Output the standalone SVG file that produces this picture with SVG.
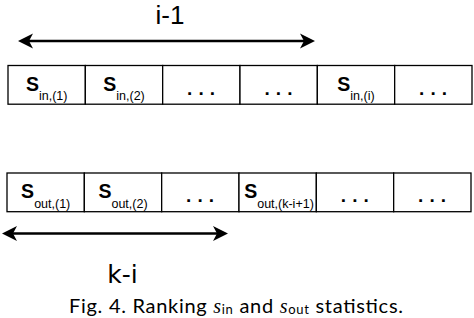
<svg xmlns="http://www.w3.org/2000/svg" width="474" height="318" viewBox="0 0 474 318">
<style>
.cell{fill:#fff;stroke:#000;stroke-width:1.3}
.lbl{font-family:"Liberation Sans",Arial,sans-serif;fill:#000;text-anchor:middle}
.S{font-size:19.5px;font-weight:bold}
.sub{font-size:12.5px;font-weight:normal}
.dots{font-family:"Liberation Sans",Arial,sans-serif;font-size:19px;font-weight:bold;text-anchor:middle;letter-spacing:0.4px}
.arr{stroke:#000;stroke-width:2.6;fill:none}
.big{font-family:"Liberation Sans",Arial,sans-serif;font-size:26px;text-anchor:middle;fill:#000}
.cap{font-family:"Lato","Liberation Sans",sans-serif;font-size:20px;fill:#000}
</style>
<defs>
<marker id="ah" viewBox="0 0 16 16" refX="11" refY="8" markerWidth="16" markerHeight="16" markerUnits="userSpaceOnUse" orient="auto-start-reverse">
<path d="M15,8 L0,0.5 L4,8 L0,15.5 Z" fill="#000"/>
</marker>
</defs>
<rect width="474" height="318" fill="#fff"/>

<g id="in1"><rect class="cell" x="8" y="65.5" width="77.33" height="38.7"/><text class="lbl" x="46.7" y="90.5"><tspan class="S">S</tspan><tspan class="sub" dy="9.5">in,(1)</tspan></text></g>
<g id="in2"><rect class="cell" x="85.33" y="65.5" width="77.33" height="38.7"/><text class="lbl" x="124" y="90.5"><tspan class="S">S</tspan><tspan class="sub" dy="9.5">in,(2)</tspan></text></g>
<g id="in3"><rect class="cell" x="162.67" y="65.5" width="77.33" height="38.7"/><text class="dots" x="201.3" y="94.5">. . .</text></g>
<g id="in4"><rect class="cell" x="240" y="65.5" width="77.33" height="38.7"/><text class="dots" x="278.7" y="94.5">. . .</text></g>
<g id="in5"><rect class="cell" x="317.33" y="65.5" width="77.33" height="38.7"/><text class="lbl" x="356" y="90.5"><tspan class="S">S</tspan><tspan class="sub" dy="9.5">in,(i)</tspan></text></g>
<g id="in6"><rect class="cell" x="394.67" y="65.5" width="77.33" height="38.7"/><text class="dots" x="433.3" y="94.5">. . .</text></g>

<g id="out1"><rect class="cell" x="7" y="173" width="77.33" height="38.7"/><text class="lbl" x="45.7" y="198"><tspan class="S">S</tspan><tspan class="sub" dy="9.5">out,(1)</tspan></text></g>
<g id="out2"><rect class="cell" x="84.33" y="173" width="77.33" height="38.7"/><text class="lbl" x="123" y="198"><tspan class="S">S</tspan><tspan class="sub" dy="9.5">out,(2)</tspan></text></g>
<g id="out3"><rect class="cell" x="161.67" y="173" width="77.33" height="38.7"/><text class="dots" x="200.3" y="202">. . .</text></g>
<g id="out4"><rect class="cell" x="239" y="173" width="77.33" height="38.7"/><text class="lbl" x="279" y="198"><tspan class="S">S</tspan><tspan class="sub" dy="9.5">out,(k-i+1)</tspan></text></g>
<g id="out5"><rect class="cell" x="316.33" y="173" width="77.33" height="38.7"/><text class="dots" x="355" y="202">. . .</text></g>
<g id="out6"><rect class="cell" x="393.67" y="173" width="77.33" height="38.7"/><text class="dots" x="432.3" y="202">. . .</text></g>

<g id="connectors">
<line class="arr" x1="22" y1="41" x2="311" y2="41" marker-start="url(#ah)" marker-end="url(#ah)"/>
<line class="arr" x1="6" y1="233.5" x2="224" y2="233.5" marker-start="url(#ah)" marker-end="url(#ah)"/>
</g>

<g id="label-i1"><text class="big" x="170" y="24">i-1</text></g>
<g id="label-ki"><text class="big" x="122.5" y="283" style="font-family:'DejaVu Sans',sans-serif;font-size:25px">k-i</text></g>

<g id="caption"><text class="cap" x="69" y="312.5" textLength="334" lengthAdjust="spacing">Fig. 4.  Ranking <tspan font-style="italic" font-family="Liberation Serif, serif">s</tspan><tspan font-size="13" dy="1.5">in</tspan><tspan dy="-1.5"> and </tspan><tspan font-style="italic" font-family="Liberation Serif, serif">s</tspan><tspan font-size="13" dy="1.5">out</tspan><tspan dy="-1.5"> statistics.</tspan></text></g>
</svg>
